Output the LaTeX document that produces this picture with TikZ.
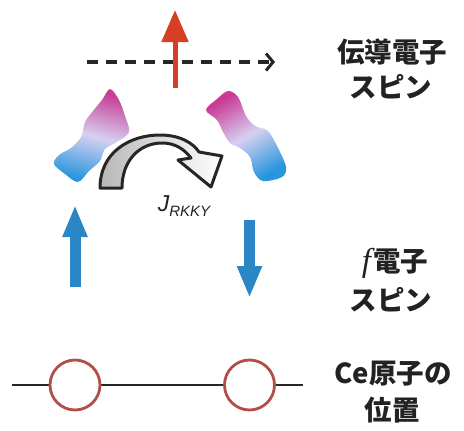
\documentclass[tikz,border=0pt]{standalone}
\usepackage{fontspec}
\usepackage{tikz}
\usetikzlibrary{arrows.meta}
\newfontfamily\jpfont{Noto Sans CJK JP}
\newfontfamily\lblfont{Liberation Sans}
\newfontfamily\symfont{Liberation Serif}
\definecolor{ccol}{RGB}{214,62,38}
\definecolor{fcol}{RGB}{42,134,196}
\definecolor{siteline}{RGB}{178,78,70}
\definecolor{wavemag}{RGB}{200,60,150}
\definecolor{wavemid}{RGB}{214,208,240}
\definecolor{waveblue}{RGB}{40,150,222}
\definecolor{txt}{RGB}{34,34,34}

\begin{document}
\begin{tikzpicture}
[
x=1pt, y=-1pt,
jplabel/.style={text=txt, font=\jpfont\bfseries\fontsize{27.5}{30}\selectfont, align=center, inner sep=0pt},
cspin/.style={ccol, line width=5pt, -{Triangle[width=26pt,length=32pt]}},
fspin/.style={fcol, line width=11pt, -{Triangle[width=23pt,length=32pt]}},
runpath/.style={black!85, line width=3.6pt, dash pattern=on 11pt off 8pt, -{Straight Barb[length=7pt,width=17pt,line width=3pt]}},
site/.style={circle, draw=siteline, line width=2.8pt, fill=white, minimum size=50pt, inner sep=0pt},
wave/.style={top color=wavemag, bottom color=waveblue, middle color=wavemid},
jarrow/.style={draw=black!85, line width=3pt, line join=round, left color=black!28, right color=white}
]
\useasboundingbox (0,0) rectangle (464,431);

% conduction electron wave packets
\shade[wave, shading angle=-15] plot[smooth cycle, tension=0.55] coordinates {
 (110,89) (119,100) (125,116) (129,132) (117,142) (105,149) (100,161) (89,171) (78,182)
 (65,174) (54,164) (59,155) (71,148) (81,137) (85,122) (93,111) (102,100)};
\shade[wave, shading angle=30] plot[smooth cycle, tension=0.55] coordinates {
 (206,110) (217,99) (228,91) (238,97) (246,116) (255,126) (268,131) (278,148) (286,167)
 (282,177) (263,181) (254,172) (250,157) (240,148) (230,143) (223,132) (217,120)};

% conduction spin and its path
\coordinate (cup0) at (175,88);
\coordinate (cup1) at (175,10);
\coordinate (run0) at (87,62);
\coordinate (run1) at (275,62);
\draw[runpath] (run0) -- (run1);
\draw[cspin] (cup0) -- (cup1);

% RKKY exchange
\draw[jarrow] (100,188) .. controls (100,152) and (130,135) .. (160,135)
  .. controls (180,135) and (193,143) .. (199,152) -- (222,156) -- (211,187)
  -- (178,160) -- (191,158) .. controls (184,149) and (175,143) .. (162,143)
  .. controls (140,143) and (122,160) .. (122,188) -- cycle;
\node[inner sep=0pt, text=txt] (jrkky) at (184,206)
  {\lblfont\itshape\fontsize{23}{23}\selectfont J\raisebox{-5pt}{\fontsize{15}{15}\selectfont RKKY}};

% f electron spins
\coordinate (fup0) at (75,287);
\coordinate (fup1) at (75,205);
\coordinate (fdn0) at (249.5,220);
\coordinate (fdn1) at (249.5,298);
\draw[fspin] (fup0) -- (fup1);
\draw[fspin] (fdn0) -- (fdn1);

% Ce sites
\coordinate (lat0) at (12,385);
\coordinate (lat1) at (303,385);
\draw[line width=1.6pt, black!85] (lat0) -- (lat1);
\node[site] (ce1) at (75,385) {};
\node[site] (ce2) at (249.5,385) {};

% labels
\node[jplabel] (lc1) at (392,52) {伝導電子};
\node[jplabel] (lc2) at (391,87) {スピン};
\node[jplabel] (lf1) at (395,263) {{\symfont\itshape\mdseries\fontsize{33}{33}\selectfont f}\kern2pt電子};
\node[jplabel] (lf2) at (391,300) {スピン};
\node[jplabel] (ls1) at (393,374) {Ce原子の};
\node[jplabel] (ls2) at (392,410) {位置};
\end{tikzpicture}
\end{document}
